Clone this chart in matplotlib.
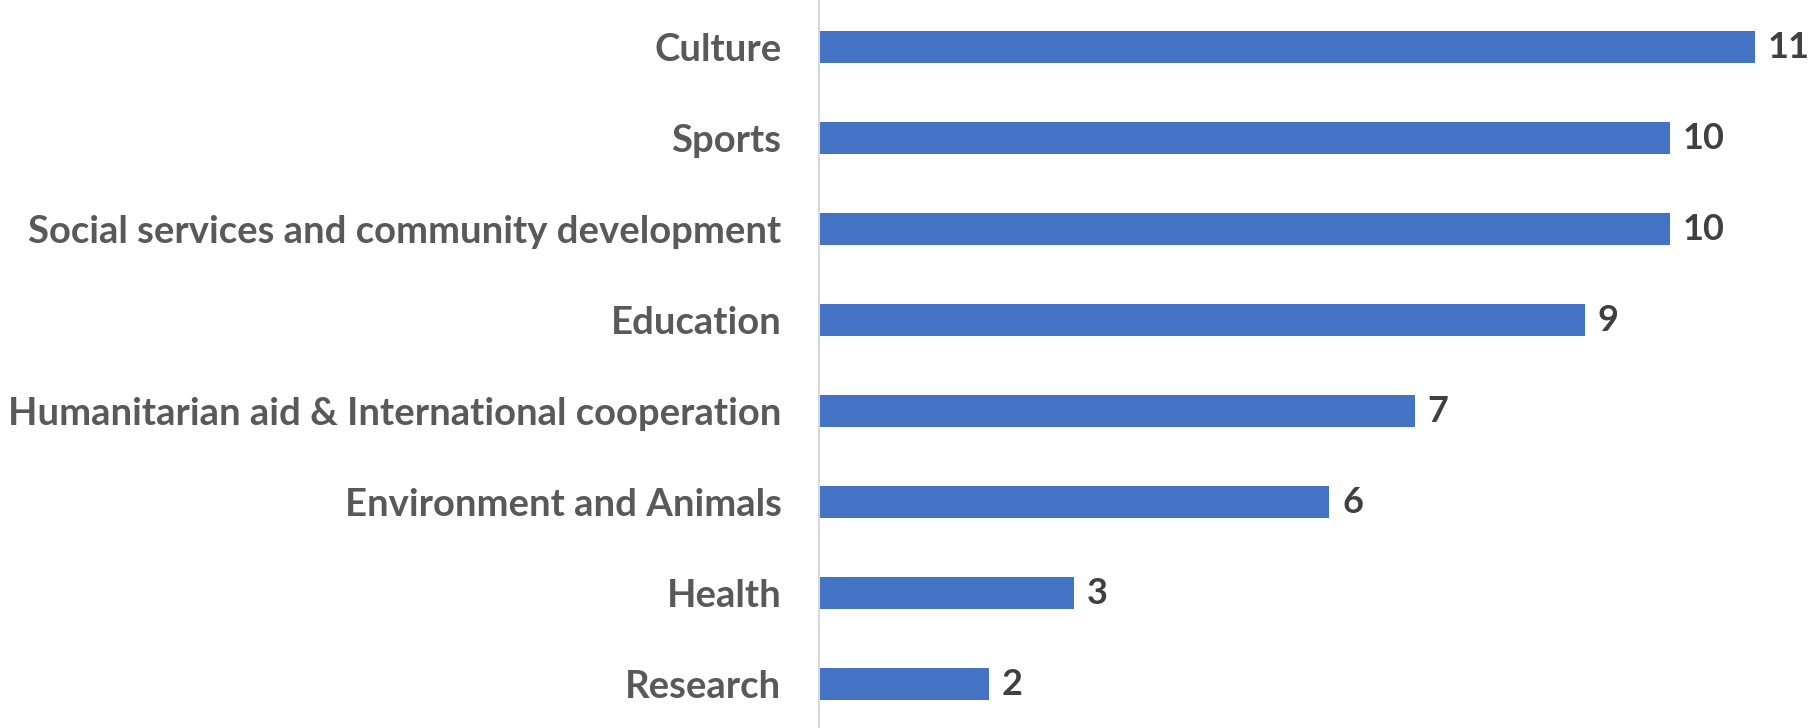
import matplotlib.pyplot as plt

plt.rcParams.update({
    'font.family': ['Lato', 'DejaVu Sans'],
    'font.weight': 'bold',
})

# Number of organisations per field of activity
categories = [
    'Culture',
    'Sports',
    'Social services and community development',
    'Education',
    'Humanitarian aid & International cooperation',
    'Environment and Animals',
    'Health',
    'Research',
]
counts = [11, 10, 10, 9, 7, 6, 3, 2]

BAR_COLOR = '#4472C4'
LABEL_COLOR = '#595959'
VALUE_COLOR = '#404040'

fig = plt.figure(figsize=(18.11, 7.28), dpi=100)
ax = fig.add_axes([0.4522, 0.0, 0.545, 1.0])

y = list(range(len(categories)))
bars = ax.barh(y, counts, height=0.35, color=BAR_COLOR)

for bar, val in zip(bars, counts):
    ax.text(bar.get_width() + 0.15, bar.get_y() + bar.get_height() / 2, str(val),
            ha='left', va='center', fontsize=26, fontweight='bold', color=VALUE_COLOR)

ax.set_yticks(y)
ax.set_yticklabels(categories, fontsize=27.5, fontweight='bold', color=LABEL_COLOR)
ax.tick_params(axis='y', length=0, pad=27)
ax.set_ylim(len(categories) - 0.52, -0.52)
ax.set_xlim(0, 11.6)
ax.set_xticks([])

for side in ['top', 'right', 'bottom']:
    ax.spines[side].set_visible(False)
ax.spines['left'].set_color('#D9D9D9')
ax.spines['left'].set_linewidth(1.5)

fig.savefig('out.png', dpi=100)
